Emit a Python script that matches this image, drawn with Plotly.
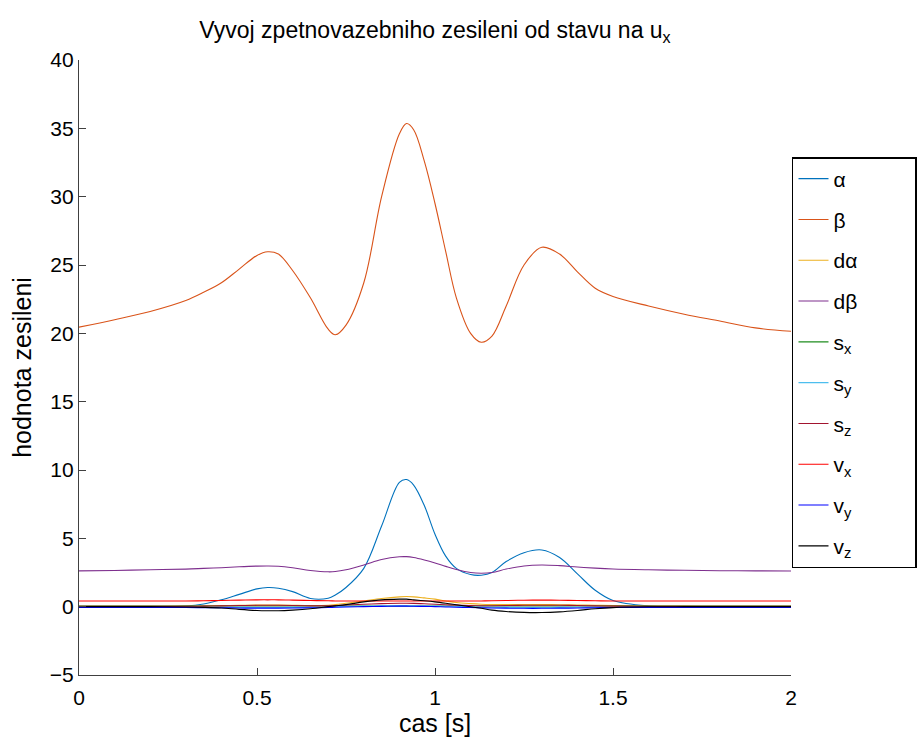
import plotly.graph_objects as go

# sample times [s]
t = [0.0, 0.1, 0.2, 0.3, 0.35, 0.4, 0.45, 0.5, 0.53, 0.56, 0.6, 0.65, 0.7, 0.72,
     0.75, 0.8, 0.85, 0.9, 0.92, 0.94, 0.97, 1.0, 1.03, 1.06, 1.1, 1.13, 1.16, 1.2, 1.25,
     1.3, 1.35, 1.4, 1.45, 1.5, 1.6, 1.7, 1.8, 1.9, 2.0]

# feedback gains for each state
k_alpha = [0.0, 0.0, 0.0, 0.05, 0.2, 0.5, 0.9, 1.3, 1.4, 1.35, 1.1, 0.6, 0.62, 0.85,
           1.4, 2.8, 5.9, 9.1, 9.3, 8.9, 7.4, 5.3, 3.7, 2.8, 2.35, 2.3, 2.5, 3.3, 3.95,
           4.15, 3.6, 2.4, 1.2, 0.45, 0.05, 0.0, 0.0, 0.0, 0.0]
k_beta = [20.45, 21.0, 21.6, 22.4, 23.0, 23.7, 24.7, 25.7, 25.97, 25.8, 24.6, 22.6, 20.3, 19.9,
          20.6, 23.7, 30.0, 34.6, 35.35, 34.9, 32.6, 29.5, 26.0, 22.6, 20.0, 19.35, 19.8, 22.0, 25.0,
          26.3, 25.8, 24.5, 23.3, 22.7, 22.0, 21.4, 20.9, 20.4, 20.15]
k_dalpha = [0.03, 0.03, 0.03, 0.04, 0.06, 0.08, 0.1, 0.12, 0.12, 0.12, 0.1, 0.08, 0.1, 0.15,
            0.25, 0.42, 0.6, 0.72, 0.74, 0.72, 0.64, 0.55, 0.42, 0.3, 0.22, 0.18, 0.16, 0.15, 0.15,
            0.15, 0.14, 0.12, 0.1, 0.08, 0.05, 0.04, 0.03, 0.03, 0.03]
k_dbeta = [2.62, 2.65, 2.7, 2.75, 2.8, 2.85, 2.92, 2.97, 2.98, 2.96, 2.85, 2.65, 2.55, 2.57,
           2.7, 3.05, 3.45, 3.65, 3.66, 3.6, 3.42, 3.2, 2.95, 2.72, 2.5, 2.45, 2.5, 2.75, 2.98,
           3.05, 3.0, 2.9, 2.82, 2.76, 2.7, 2.66, 2.63, 2.62, 2.61]
k_sx = [0.05] * 39
k_sy = [-0.02, -0.02, -0.02, -0.02, -0.03, -0.04, -0.05, -0.06, -0.06, -0.06, -0.05, -0.04, -0.02, 0.0,
        0.02, 0.04, 0.06, 0.07, 0.07, 0.06, 0.05, 0.04, 0.03, 0.01, 0.0, -0.02, -0.04, -0.05, -0.06,
        -0.06, -0.05, -0.04, -0.03, -0.02, -0.02, -0.02, -0.02, -0.02, -0.02]
k_sz = [0.02, 0.02, 0.02, 0.03, 0.04, 0.06, 0.08, 0.1, 0.1, 0.1, 0.08, 0.06, 0.06, 0.08,
        0.12, 0.18, 0.22, 0.25, 0.25, 0.24, 0.21, 0.18, 0.14, 0.11, 0.08, 0.07, 0.07, 0.08, 0.1,
        0.1, 0.1, 0.08, 0.06, 0.04, 0.03, 0.02, 0.02, 0.02, 0.02]
k_vx = [0.42, 0.42, 0.42, 0.42, 0.43, 0.45, 0.48, 0.5, 0.5, 0.5, 0.48, 0.45, 0.43, 0.42,
        0.42, 0.42, 0.42, 0.42, 0.42, 0.42, 0.42, 0.42, 0.42, 0.42, 0.42, 0.42, 0.43, 0.45, 0.47,
        0.48, 0.47, 0.45, 0.43, 0.42, 0.42, 0.42, 0.42, 0.42, 0.42]
k_vy = [-0.05, -0.05, -0.05, -0.06, -0.07, -0.08, -0.1, -0.11, -0.11, -0.11, -0.1, -0.08, -0.06, -0.04,
        -0.02, 0.0, 0.02, 0.04, 0.04, 0.03, 0.02, 0.0, -0.02, -0.04, -0.06, -0.08, -0.1, -0.11, -0.12,
        -0.12, -0.11, -0.1, -0.08, -0.06, -0.05, -0.05, -0.05, -0.05, -0.05]
k_vz = [0.0, 0.0, 0.0, -0.02, -0.05, -0.1, -0.2, -0.28, -0.3, -0.3, -0.25, -0.15, 0.0, 0.06,
        0.15, 0.35, 0.5, 0.55, 0.55, 0.5, 0.43, 0.35, 0.25, 0.14, 0.0, -0.12, -0.25, -0.35, -0.42,
        -0.43, -0.38, -0.28, -0.15, -0.07, -0.01, 0.0, 0.0, 0.0, 0.0]

names = ["α", "β", "dα", "dβ", "s<sub>x</sub>", "s<sub>y</sub>", "s<sub>z</sub>",
         "v<sub>x</sub>", "v<sub>y</sub>", "v<sub>z</sub>"]
series = [k_alpha, k_beta, k_dalpha, k_dbeta, k_sx, k_sy, k_sz, k_vx, k_vy, k_vz]
colors = ["#0072BD", "#D95319", "#EDB120", "#7E2F8E", "#1E8C1E",
          "#4DBEEE", "#A2142F", "#FF0000", "#0000FF", "#000000"]

FONT = "Liberation Sans, Arial, sans-serif"
# non-breaking padding widens the legend box towards the page edge
PAD = "&nbsp;" * 11

fig = go.Figure()
for i, (nm, ys, col) in enumerate(zip(names, series, colors)):
    fig.add_trace(go.Scatter(
        x=t, y=ys, name=nm + (PAD if i == 0 else ""), mode="lines",
        line=dict(color=col, width=1.1, shape="spline", smoothing=1.0),
        legendgroup=f"g{i}",
    ))

fig.update_layout(
    width=919, height=743,
    margin=dict(l=79, r=128, t=60, b=68, autoexpand=False),
    paper_bgcolor="white", plot_bgcolor="white",
    font=dict(family=FONT, size=21, color="black"),
    title=dict(text="Vyvoj zpetnovazebniho zesileni od stavu na u<sub>x</sub>",
               x=(79 + 791) / 2 / 919, xanchor="center",
               y=1 - 30 / 743, yanchor="middle", yref="container",
               font=dict(family=FONT, size=23, color="black")),
    showlegend=True,
    legend=dict(
        x=1.0014, xanchor="left", y=(675 - 157) / 615, yanchor="top",
        bordercolor="black", borderwidth=1.5, bgcolor="white",
        font=dict(family=FONT, size=21, color="black"),
        tracegroupgap=10.5, traceorder="grouped",
    ),
    xaxis=dict(
        range=[0, 2], tickvals=[0, 0.5, 1, 1.5, 2],
        ticktext=["0", "0.5", "1", "1.5", "2"],
        ticks="inside", ticklen=7, tickcolor="#404040",
        showline=True, linecolor="#404040", linewidth=1.2,
        showgrid=False, zeroline=False, ticklabelstandoff=4,
        title=dict(text="cas [s]", standoff=2),
    ),
    yaxis=dict(
        range=[-5, 40], tickvals=[-5, 0, 5, 10, 15, 20, 25, 30, 35, 40],
        ticktext=["−5", "0", "5", "10", "15", "20", "25", "30", "35", "40"],
        ticks="inside", ticklen=7, tickcolor="#404040",
        showline=True, linecolor="#404040", linewidth=1.2,
        showgrid=False, zeroline=False,
        title=dict(text="hodnota zesileni", standoff=10),
    ),
)

fig.write_html("out.html")
